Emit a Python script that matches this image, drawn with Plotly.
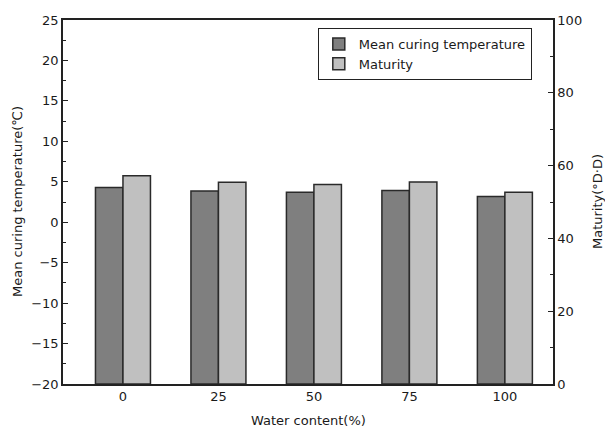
import plotly.graph_objects as go

# Water content categories (%)
water_content = [0, 25, 50, 75, 100]
# Mean curing temperature (°C), left axis
mean_temp = [4.3, 3.87, 3.71, 3.92, 3.18]
# Maturity (°D·D), right axis
maturity = [57.2, 55.4, 54.8, 55.5, 52.7]

TEMP_MIN, TEMP_MAX = -20, 25
BAR_W = 7.2
FONT = "DejaVu Sans"

fig = go.Figure()

# temperature bars rise from the bottom of the axis (-20)
fig.add_trace(go.Bar(
    x=water_content,
    y=[v - TEMP_MIN for v in mean_temp],
    base=TEMP_MIN,
    width=BAR_W, offset=-BAR_W,
    name="Mean curing temperature",
    marker=dict(color="#7f7f7f", line=dict(color="#2a2a2a", width=1.5)),
    yaxis="y",
))
fig.add_trace(go.Bar(
    x=water_content,
    y=maturity,
    width=BAR_W, offset=0,
    name="Maturity",
    marker=dict(color="#c0c0c0", line=dict(color="#2a2a2a", width=1.5)),
    yaxis="y2",
))

axis_font = dict(family=FONT, size=13, color="#1a1a1a")

fig.update_layout(
    width=605, height=430,
    margin=dict(l=63, r=52, t=20, b=46, autoexpand=False),
    plot_bgcolor="white", paper_bgcolor="white",
    font=axis_font,
    barmode="overlay",
    showlegend=True,
    legend=dict(
        x=0.52, y=0.978, xanchor="left", yanchor="top",
        bordercolor="#222", borderwidth=1, bgcolor="white",
        font=dict(family=FONT, size=13, color="#1a1a1a"),
        tracegroupgap=0, itemwidth=30,
    ),
    xaxis=dict(
        range=[-15.7, 112.6],
        tickvals=water_content,
        ticktext=[str(v) for v in water_content],
        ticks="", showgrid=False, zeroline=False,
        showline=True, linecolor="#222", linewidth=1.5, mirror=True,
        tickfont=axis_font,
    ),
    yaxis=dict(
        range=[TEMP_MIN, TEMP_MAX],
        dtick=5, tick0=0,
        ticks="inside", ticklen=5, tickwidth=1.2, tickcolor="#222",
        minor=dict(ticks="inside", ticklen=3, dtick=2.5, tickcolor="#222", tickwidth=1),
        showgrid=False, zeroline=False,
        showline=True, linecolor="#222", linewidth=1.5,
        tickfont=axis_font,
    ),
    yaxis2=dict(
        range=[0, 100], overlaying="y", side="right",
        dtick=20, tick0=0,
        ticks="inside", ticklen=5, tickwidth=1.2, tickcolor="#222",
        minor=dict(ticks="inside", ticklen=3, dtick=10, tickcolor="#222", tickwidth=1),
        showgrid=False, zeroline=False,
        showline=True, linecolor="#222", linewidth=1.5,
        tickfont=axis_font,
    ),
)

# axis titles placed in the margins
fig.add_annotation(text="Water content(%)", xref="paper", yref="paper",
                   x=0.5, y=0, yshift=-36, yanchor="middle", showarrow=False,
                   font=axis_font)
fig.add_annotation(text="Mean curing temperature(℃)", xref="paper", yref="paper",
                   x=0, y=0.5, xshift=-46, xanchor="center", textangle=-90,
                   showarrow=False, font=axis_font)
fig.add_annotation(text="Maturity(°D·D)", xref="paper", yref="paper",
                   x=1, y=0.5, xshift=44, xanchor="center", textangle=-90,
                   showarrow=False, font=axis_font)

fig.write_html("out.html")
